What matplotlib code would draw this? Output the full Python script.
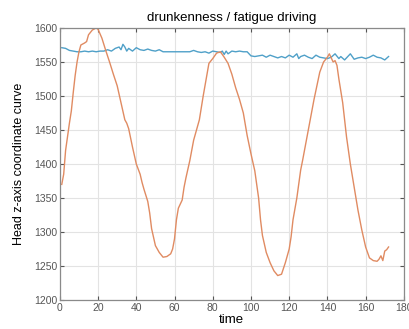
import matplotlib
matplotlib.use("Agg")
import matplotlib.pyplot as plt

# orange curve: head z-axis (time, value)
t_head = [1, 2, 3, 4, 5, 6, 7, 8, 9, 10, 11, 13, 14, 15, 17, 19, 20, 22, 24, 26,
          28, 30, 32, 34, 35, 36, 38, 40, 42, 43, 44, 46, 47, 48, 50, 52, 54, 56,
          58, 59, 60, 61, 62, 64, 65, 66, 68, 70, 71, 73, 75, 78, 80, 82, 84,
          86, 88, 90, 92, 94, 96, 98, 100, 102, 104, 105, 106, 108, 110, 112,
          114, 116, 118, 120, 121, 122, 124, 126, 127, 129, 131, 133, 136, 138,
          140, 141, 142, 143, 144, 145, 146, 148, 149, 150, 152, 154, 156, 158,
          160, 162, 164, 166, 167, 168, 169, 170, 171, 172]
v_head = [1370, 1385, 1420, 1440, 1460, 1478, 1505, 1530, 1550, 1565, 1575, 1578,
          1580, 1590, 1597, 1600, 1598, 1585, 1567, 1550, 1532, 1515, 1490, 1465,
          1460, 1452, 1425, 1400, 1385, 1373, 1363, 1345, 1328, 1305, 1280, 1270,
          1263, 1264, 1268, 1275, 1290, 1318, 1335, 1347, 1366, 1380, 1405, 1435,
          1445, 1465, 1500, 1548, 1555, 1563, 1565, 1557, 1548, 1532, 1512, 1495,
          1475, 1442, 1415, 1390, 1350, 1318, 1295, 1270, 1255, 1243, 1236, 1238,
          1255, 1275, 1293, 1318, 1350, 1391, 1405, 1435, 1465, 1495, 1535, 1550,
          1557, 1562, 1556, 1550, 1552, 1545, 1525, 1490, 1465, 1440, 1400, 1366,
          1332, 1303, 1278, 1262, 1258, 1257, 1260, 1265, 1258, 1272, 1274, 1278]

# blue curve: reference (time, value)
t_ref = [1, 3, 5, 7, 9, 11, 13, 15, 17, 19, 21, 23, 25, 27, 29, 31, 32, 33, 34,
         35, 36, 38, 40, 42, 44, 46, 48, 50, 52, 54, 56, 60, 64, 68, 70, 72, 74,
         76, 78, 80, 82, 84, 85, 86, 87, 88, 90, 92, 94, 96, 98, 100, 102, 104,
         106, 108, 110, 112, 114, 116, 118, 120, 122, 124, 125, 126, 128, 130,
         132, 134, 136, 138, 140, 142, 144, 146, 147, 149, 150, 152, 154, 156,
         158, 160, 162, 164, 166, 168, 170, 172]
v_ref = [1571, 1570, 1567, 1566, 1565, 1565, 1566, 1565, 1566, 1565, 1566, 1566,
         1568, 1566, 1570, 1572, 1568, 1576, 1572, 1566, 1570, 1566, 1571, 1568,
         1567, 1569, 1567, 1566, 1568, 1565, 1565, 1565, 1565, 1565, 1567, 1565,
         1564, 1565, 1563, 1566, 1565, 1564, 1566, 1561, 1566, 1562, 1566, 1565,
         1566, 1565, 1565, 1559, 1558, 1559, 1560, 1557, 1560, 1558, 1556, 1558,
         1556, 1560, 1557, 1562, 1555, 1558, 1560, 1557, 1555, 1560, 1557, 1556,
         1555, 1557, 1562, 1555, 1558, 1553, 1556, 1562, 1554, 1556, 1557, 1555,
         1557, 1560, 1557, 1556, 1553, 1558]

x_ticks = list(range(0, 181, 20))
y_ticks = list(range(1200, 1601, 50))

plt.rcParams["font.family"] = ["Liberation Sans", "DejaVu Sans"]

fig = plt.figure(figsize=(4.10, 3.29), dpi=100)
ax = fig.add_axes([0.146, 0.088, 0.839, 0.827])

ax.plot(t_ref, v_ref, color="#4fa0c8", linewidth=1.0)
ax.plot(t_head, v_head, color="#e08b62", linewidth=1.0)

ax.set_xlim(0, 180)
ax.set_ylim(1200, 1600)
ax.set_xticks(x_ticks)
ax.set_yticks(y_ticks)
ax.grid(True, color="#e3e3e3", linewidth=0.8)
ax.set_axisbelow(True)
ax.tick_params(direction="in", top=True, right=True, labelsize=7.5,
               colors="#555555", length=3, pad=2)
for s in ax.spines.values():
    s.set_color("#8a8a8a")
    s.set_linewidth(0.9)

ax.set_title("drunkenness / fatigue driving", fontsize=9.5, pad=5)
ax.set_xlabel("time", fontsize=9.5, labelpad=1)
ax.set_ylabel("Head z-axis coordinate curve", fontsize=9, labelpad=6)

fig.savefig("out.png", dpi=100)
